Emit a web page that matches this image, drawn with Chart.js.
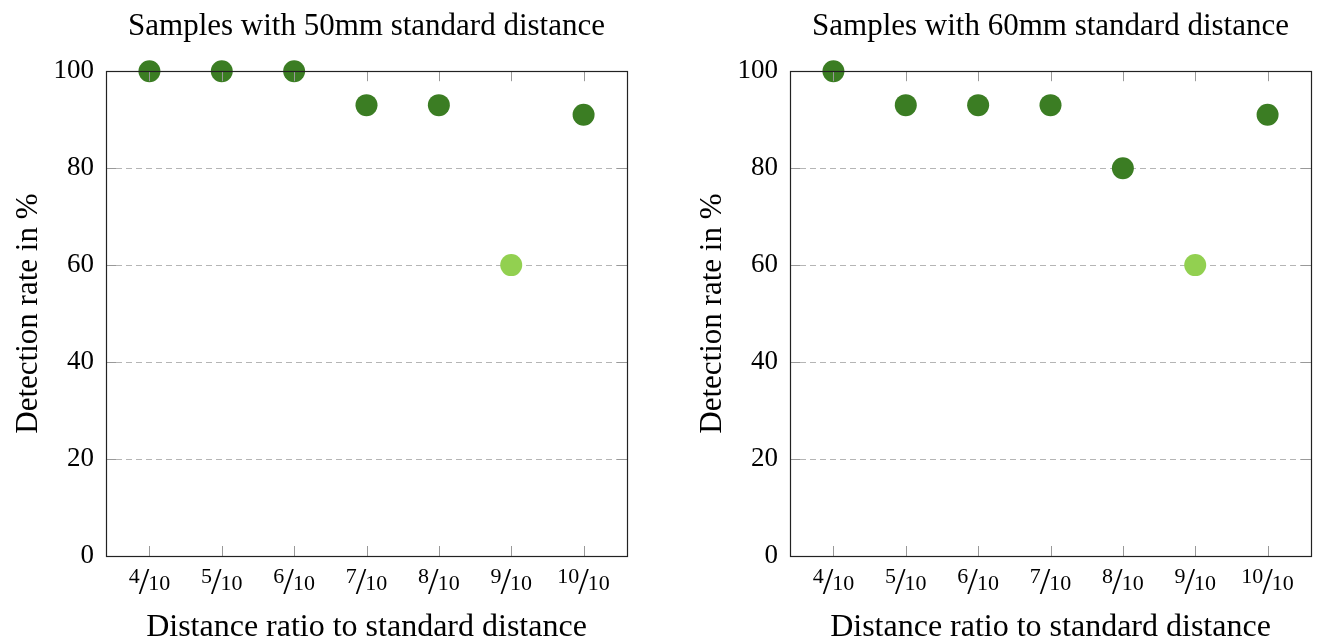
<!DOCTYPE html>
<html>
<head>
<meta charset="utf-8">
<script src="https://cdn.jsdelivr.net/npm/chart.js@4/dist/chart.umd.min.js"></script>
<style>
  html, body { margin: 0; padding: 0; background: #fff; }
  body { width: 1322px; height: 644px; position: relative; overflow: hidden; }
  canvas { position: absolute; top: 0; }
</style>
</head>
<body>
<canvas id="left" width="638" height="644" style="left:0px"></canvas>
<canvas id="right" width="638" height="644" style="left:684px"></canvas>
<script>
// distance ratio numerators (x / 10)
var ratios = [4, 5, 6, 7, 8, 9, 10];
var rate50 = [100, 100, 100, 93, 93, 60, 91];
var rate60 = [100, 93, 93, 93, 80, 60, 91];
// which points are drawn in light green
var light50 = [false, false, false, false, false, true, false];
var light60 = [false, false, false, false, false, true, false];
var yTicks = [0, 20, 40, 60, 80, 100];

var DARK = '#3b7d23';
var LIGHT = '#92d050';
var FONT = 'Liberation Serif';

Chart.defaults.font.family = FONT;
Chart.defaults.color = '#000';

// frame, inward tick marks and the a/b fraction labels
var framePlugin = {
  id: 'frame',
  afterDraw: function (chart) {
    var ctx = chart.ctx;
    var a = chart.chartArea;
    var xs = chart.scales.x, ys = chart.scales.y;
    ctx.save();
    ctx.strokeStyle = '#999';
    ctx.lineWidth = 1;
    ctx.beginPath();
    ratios.forEach(function (r) {
      var px = Math.round(xs.getPixelForValue(r)) + 0.5;
      ctx.moveTo(px, a.bottom); ctx.lineTo(px, a.bottom - 10);
      ctx.moveTo(px, a.top); ctx.lineTo(px, a.top + 10);
    });
    yTicks.forEach(function (v) {
      var py = Math.round(ys.getPixelForValue(v)) + 0.5;
      ctx.moveTo(a.left, py); ctx.lineTo(a.left + 10, py);
      ctx.moveTo(a.right, py); ctx.lineTo(a.right - 10, py);
    });
    ctx.stroke();

    ctx.strokeStyle = '#222';
    ctx.lineWidth = 1.2;
    ctx.strokeRect(Math.round(a.left) + 0.5, Math.round(a.top) + 0.5,
      Math.round(a.right - a.left), Math.round(a.bottom - a.top));

    ctx.fillStyle = '#000';
    ctx.textBaseline = 'alphabetic';
    ctx.textAlign = 'left';
    ratios.forEach(function (r) {
      var cx = xs.getPixelForValue(r);
      var num = String(r), den = '10';
      ctx.font = '22px "' + FONT + '"';
      var wn = ctx.measureText(num).width;
      var wd = ctx.measureText(den).width;
      ctx.font = '38px "' + FONT + '"';
      var ws = ctx.measureText('/').width - 2;
      var x = cx - (wn + ws + wd) / 2;
      ctx.font = '22px "' + FONT + '"';
      ctx.fillText(num, x, a.bottom + 27);
      x += wn - 1;
      ctx.font = '38px "' + FONT + '"';
      ctx.fillText('/', x, a.bottom + 38);
      x += ws + 1;
      ctx.font = '22px "' + FONT + '"';
      ctx.fillText(den, x, a.bottom + 34);
    });
    ctx.restore();
  }
};

function makeChart(id, title, values, light) {
  var points = ratios.map(function (r, i) { return { x: r, y: values[i] }; });
  var colors = light.map(function (l) { return l ? LIGHT : DARK; });
  return new Chart(document.getElementById(id), {
    type: 'scatter',
    data: {
      datasets: [{
        data: points,
        backgroundColor: colors,
        borderWidth: 0,
        pointRadius: 11,
        pointHoverRadius: 11,
        clip: false
      }]
    },
    options: {
      responsive: false,
      animation: false,
      layout: { padding: { top: 0, right: 10, bottom: 0, left: 0 } },
      plugins: {
        legend: { display: false },
        tooltip: { enabled: false },
        title: {
          display: true,
          text: title,
          fullSize: false,
          color: '#000',
          font: { size: 31, weight: 'normal' },
          padding: { top: 8, bottom: 26 }
        }
      },
      scales: {
        x: {
          type: 'linear',
          min: 3.4,
          max: 10.6,
          grid: { display: false },
          border: { display: false },
          ticks: { display: false },
          title: {
            display: true,
            text: 'Distance ratio to standard distance',
            color: '#000',
            font: { size: 32, lineHeight: 1.0 },
            padding: { top: 0, bottom: 0 }
          },
          afterFit: function (s) { s.height = 88; }
        },
        y: {
          min: 0,
          max: 100,
          afterBuildTicks: function (s) {
            s.ticks = yTicks.map(function (v) { return { value: v }; });
          },
          grid: {
            drawTicks: false,
            color: function (c) {
              var v = c.tick ? c.tick.value : null;
              return (v === 0 || v === 100) ? 'rgba(0,0,0,0)' : '#b5b5b5';
            },
            lineWidth: 1
          },
          border: { display: false, dash: [6, 4] },
          ticks: {
            padding: 12,
            color: '#000',
            font: { size: 27 }
          },
          title: {
            display: true,
            text: 'Detection rate in %',
            color: '#000',
            font: { size: 31 },
            padding: { top: 10, bottom: 0 }
          },
          afterFit: function (s) { s.width = 106; }
        }
      }
    },
    plugins: [framePlugin]
  });
}

makeChart('left', 'Samples with 50mm standard distance', rate50, light50);
makeChart('right', 'Samples with 60mm standard distance', rate60, light60);
</script>
</body>
</html>
